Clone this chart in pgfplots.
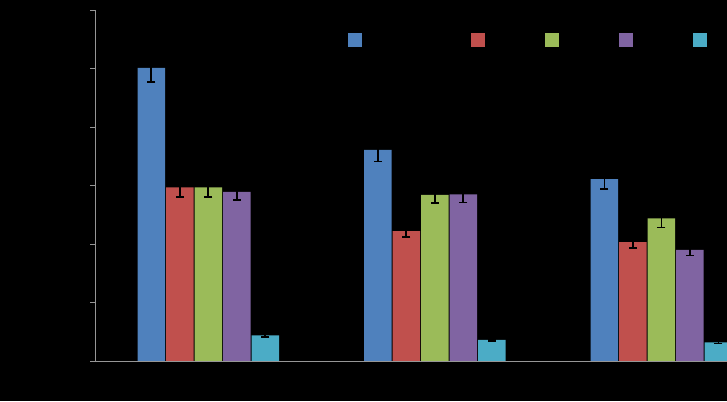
\documentclass[border=0pt]{standalone}
\usepackage{pgfplots}
\pgfplotsset{compat=1.18}
\definecolor{sBlue}{HTML}{4F81BD}
\definecolor{sRed}{HTML}{C0504D}
\definecolor{sGreen}{HTML}{9BBB59}
\definecolor{sPurple}{HTML}{8064A2}
\definecolor{sCyan}{HTML}{4BACC6}
\definecolor{axgray}{RGB}{150,150,150}
\begin{document}
\begin{tikzpicture}
\fill[black] (0,0) rectangle (727pt,401pt);
\begin{axis}[
    at={(95pt,40pt)}, anchor=south west,
    scale only axis,
    width=632pt, height=351pt,
    ybar=1pt, bar width=27.5pt,
    xmin=-0.5, xmax=2.29,
    ymin=0, ymax=6,
    ytick={0,1,...,6},
    xtick={0,1,2},
    xticklabels={Group 1, Group 2, Group 3},
    axis x line*=bottom,
    axis y line*=left,
    axis line style={axgray, line width=0.8pt},
    tick align=outside,
    major tick length=5pt,
    ytick style={axgray, line width=0.8pt},
    xtick style={draw=none},
    ticklabel style={black, font=\small},
    legend style={
        at={(0.4,0.9145)}, anchor=west,
        draw=none, fill=none, inner sep=0pt,
        legend columns=-1,
        text=black, font=\small,
        /tikz/every even column/.append style={column sep=0pt},
    },
    legend image code/.code={\fill[#1] (0pt,-7pt) rectangle (14pt,7pt);},
    error bars/y dir=both,
    error bars/y explicit,
    error bars/error bar style={black, line width=1.6pt},
    error bars/error mark options={rotate=90, mark size=4pt, line width=1.6pt, black},
]
\addplot[fill=sBlue, draw=none] coordinates {
    (0,5.01) +- (0,0.24)
    (1,3.61) +- (0,0.20)
    (2,3.11) +- (0,0.17)
};
\addplot[fill=sRed, draw=none] coordinates {
    (0,2.97) +- (0,0.17)
    (1,2.22) +- (0,0.10)
    (2,2.03) +- (0,0.10)
};
\addplot[fill=sGreen, draw=none] coordinates {
    (0,2.97) +- (0,0.17)
    (1,2.84) +- (0,0.14)
    (2,2.44) +- (0,0.16)
};
\addplot[fill=sPurple, draw=none] coordinates {
    (0,2.89) +- (0,0.14)
    (1,2.85) +- (0,0.14)
    (2,1.90) +- (0,0.10)
};
\addplot[fill=sCyan, draw=none] coordinates {
    (0,0.44) +- (0,0.03)
    (1,0.36) +- (0,0.02)
    (2,0.32) +- (0,0.02)
};
\legend{\makebox[105pt][l]{Series 1}, \makebox[56pt][l]{Series 2}, \makebox[56pt][l]{Series 3}, \makebox[56pt][l]{Series 4}, \makebox[14pt][l]{S5}}
\end{axis}
\pgfresetboundingbox
\path (0,0) rectangle (727pt,401pt);
\end{tikzpicture}
\end{document}
